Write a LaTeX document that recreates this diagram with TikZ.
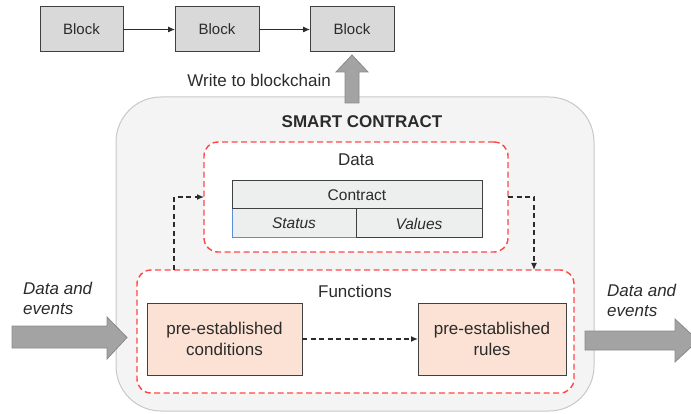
\documentclass[tikz,border=0pt]{standalone}
\usepackage{fontspec}
\setmainfont{Liberation Sans}
\usetikzlibrary{arrows.meta}
\definecolor{txt}{HTML}{2B2B2B}
\definecolor{scfill}{HTML}{F4F4F4}
\definecolor{scdraw}{HTML}{C8C8C8}
\definecolor{blockfill}{HTML}{D9D9D9}
\definecolor{boxdraw}{HTML}{404040}
\definecolor{tabfill}{HTML}{EDEFEE}
\definecolor{peach}{HTML}{FBE2D4}
\definecolor{redd}{HTML}{FF4747}
\definecolor{arrfill}{HTML}{A3A3A3}
\definecolor{arrdraw}{HTML}{8A8A8A}
\definecolor{bluel}{HTML}{5B8DD9}
\tikzset{
  blockbox/.style={draw=boxdraw, fill=blockfill, line width=1pt, inner sep=0pt, outer sep=0pt, text=txt, font=\fontsize{15}{18}\selectfont},
  redbox/.style={draw=redd, fill=white, line width=1.4pt, dash pattern=on 6pt off 3.5pt, rounded corners=14pt, inner sep=0pt, outer sep=0pt},
  cellbox/.style={draw=boxdraw, fill=tabfill, line width=1pt, inner sep=0pt, outer sep=0pt, text=txt, font=\fontsize{15.5}{18}\selectfont},
  funcbox/.style={draw=boxdraw, fill=peach, line width=1pt, inner sep=0pt, outer sep=0pt, text=txt, align=center, font=\fontsize{17}{21}\selectfont},
  lbl/.style={text=txt, inner sep=0pt, font=\fontsize{17}{20}\selectfont},
  solidarrow/.style={draw=txt, line width=1pt, -{Latex[length=7pt,width=6pt]}},
  dasharrow/.style={draw=txt, line width=1.3pt, dash pattern=on 5pt off 3.5pt, -{Latex[length=7pt,width=6pt]}},
  bigarrow/.style={fill=arrfill, draw=arrdraw, line width=0.8pt}
}
\begin{document}
\begin{tikzpicture}[x=1pt,y=-1pt]
\useasboundingbox (0,0) rectangle (691,414);
% blocks
\node[blockbox, minimum width=83pt, minimum height=45pt] (b1) at (81.5,29.5) {Block};
\node[blockbox, minimum width=84pt, minimum height=45pt] (b2) at (217,29.5) {Block};
\node[blockbox, minimum width=84pt, minimum height=45pt] (b3) at (352,29.5) {Block};
\draw[solidarrow] (b1) -- (b2);
\draw[solidarrow] (b2) -- (b3);
% smart contract container
\node[draw=scdraw, fill=scfill, line width=1pt, rounded corners=45pt, minimum width=478pt, minimum height=314pt, inner sep=0pt] (sc) at (355,254) {};
% up arrow
\draw[bigarrow] (345,103) -- (345,72) -- (336,72) -- (352,55) -- (368,72) -- (359,72) -- (359,103) -- cycle;
\node[lbl, anchor=east] (wtb) at (331,80) {Write to blockchain};
\node[lbl, font=\fontsize{17}{20}\selectfont\bfseries] (sct) at (362,122) {SMART CONTRACT};
% data box
\node[redbox, minimum width=304pt, minimum height=110pt] (data) at (356,197) {};
\node[lbl] (datat) at (356,160) {Data};
\node[cellbox, minimum width=250pt, minimum height=28pt] (contract) at (357,195) {Contract};
\node[cellbox, minimum width=124pt, minimum height=29pt] (status) at (294,223.5) {\itshape Status};
\node[cellbox, minimum width=126pt, minimum height=29pt] (values) at (419,223.5) {\itshape Values};
\draw[bluel, line width=1pt] (status.north west) -- (status.south west) -- (status.south east);
% functions box
\node[redbox, minimum width=437pt, minimum height=123pt] (func) at (355.5,331.5) {};
\node[lbl] (funct) at (355,291) {Functions};
\node[funcbox, minimum width=155pt, minimum height=72pt] (cond) at (224.5,339) {pre-established\\conditions};
\node[funcbox, minimum width=148pt, minimum height=72pt] (rules) at (492,339) {pre-established\\rules};
\draw[dasharrow] (cond) -- (rules);
% dashed connectors
\coordinate (c1) at (174,197);
\coordinate (c2) at (534,197);
\draw[dasharrow] (func.north -| c1) -- (c1) -- (data.west |- c1);
\draw[dasharrow] (data.east |- c2) -- (c2) -- (c2 |- func.north);
% side arrows
\draw[bigarrow] (12,326) -- (107,326) -- (107,317) -- (127,337.5) -- (107,359) -- (107,348) -- (12,348) -- cycle;
\draw[bigarrow] (585,331) -- (675,331) -- (675,319) -- (698,340.5) -- (675,362) -- (675,350) -- (585,350) -- cycle;
\node[lbl, anchor=west, align=left, font=\fontsize{17}{20}\selectfont\itshape] (inl) at (23,298) {Data and\\events};
\node[lbl, anchor=west, align=left, font=\fontsize{17}{20}\selectfont\itshape] (outl) at (607,300) {Data and\\events};
\end{tikzpicture}
\end{document}
